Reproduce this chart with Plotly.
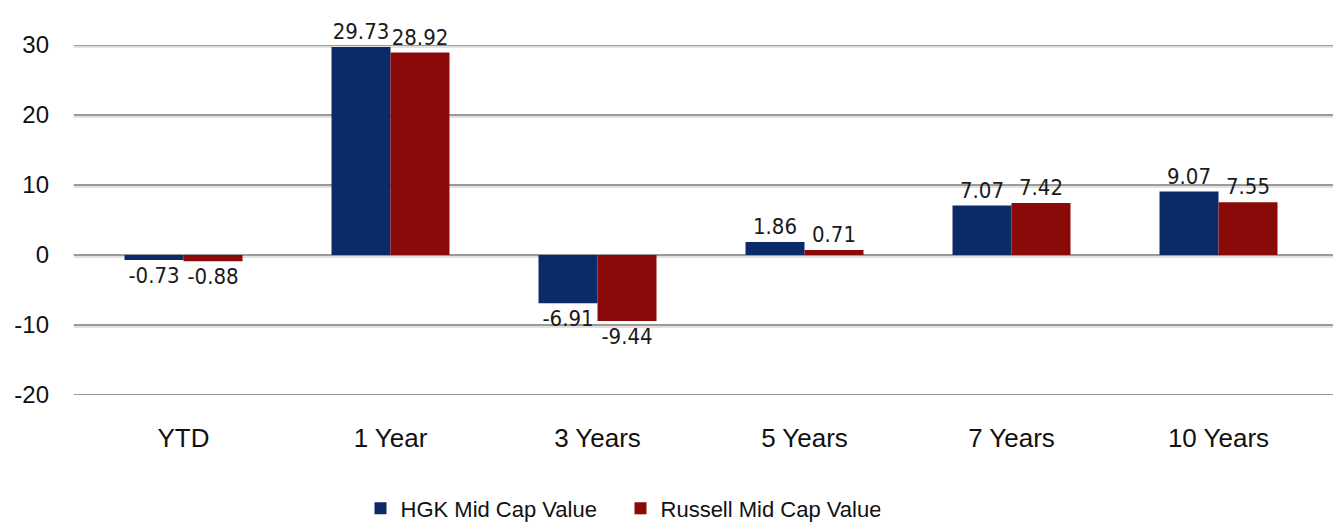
import plotly.graph_objects as go

categories = ["YTD", "1 Year", "3 Years", "5 Years", "7 Years", "10 Years"]
hgk = [-0.73, 29.73, -6.91, 1.86, 7.07, 9.07]
russell = [-0.88, 28.92, -9.44, 0.71, 7.42, 7.55]
series_names = ["HGK Mid Cap Value", "Russell Mid Cap Value"]
tick_vals = [-20, -10, 0, 10, 20, 30]
tick_text = ["-20", "-10", "0", "10", "20", "30"]

label_font = dict(family="Liberation Sans Narrow, Arial Narrow, DejaVu Sans Condensed, Liberation Sans",
                  size=22, color="#1a1a1a")

fig = go.Figure()
fig.add_trace(go.Bar(
    x=categories, y=hgk, name=series_names[0],
    marker=dict(color="#0B2A68", line=dict(width=0)),
    text=[f"{v:.2f}" for v in hgk], textposition="outside",
    textfont=label_font, cliponaxis=False,
))
fig.add_trace(go.Bar(
    x=categories, y=russell, name=series_names[1],
    marker=dict(color="#8A0A0A", line=dict(width=0)),
    text=[f"{v:.2f}" for v in russell], textposition="outside",
    textfont=label_font, cliponaxis=False,
))

shapes = []
for v in tick_vals:
    shapes.append(dict(type="line", xref="paper", yref="y", x0=-0.005, x1=1.016, y0=v - 0.3, y1=v - 0.3,
                       line=dict(color="#e2e2e2", width=2), layer="below"))
    shapes.append(dict(type="line", xref="paper", yref="y", x0=-0.005, x1=1.016, y0=v, y1=v,
                       line=dict(color="#9a9a9a", width=2), layer="below"))

fig.update_layout(
    width=1333, height=516,
    margin=dict(l=72, r=19, t=37, b=129, autoexpand=False),
    paper_bgcolor="white", plot_bgcolor="white",
    barmode="group", bargap=0.43, bargroupgap=0,
    font=dict(family="Liberation Sans, Arial", size=24, color="#111"),
    showlegend=True,
    legend=dict(orientation="h", x=0.4595, xanchor="center", xref="container",
                y=0.03, yanchor="middle", yref="container",
                font=dict(size=22, color="#111"), tracegroupgap=0, itemwidth=30,
                entrywidth=215, entrywidthmode="pixels"),
    shapes=shapes,
)
fig.update_yaxes(
    range=[-20, 30], tickvals=tick_vals, ticktext=tick_text, showgrid=False,
    zeroline=False, showline=False,
    ticks="", ticklabelstandoff=30, tickfont=dict(size=24),
)
fig.update_xaxes(
    showgrid=False, showline=False, ticks="", ticklabelstandoff=25, tickfont=dict(size=26),
)

fig.write_html("out.html")
